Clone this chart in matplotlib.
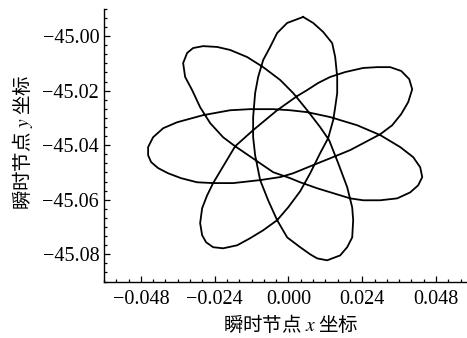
import matplotlib
matplotlib.use("Agg")
import matplotlib.pyplot as plt
from matplotlib.ticker import FixedLocator, MultipleLocator, FuncFormatter

# Instantaneous node trajectory (closed orbit), in drawing order
node_x = [
    0.00478, -0.00042, -0.00368, -0.00595, -0.00823, -0.00986, -0.01084, -0.01149,
    -0.01149, -0.01084, -0.00921, -0.00661, -0.00368, -0.00042, 0.00381, 0.00706,
    0.00934, 0.01259, 0.01682, 0.01910, 0.02073, 0.02105, 0.02073, 0.01910,
    0.01617, 0.01324, 0.01032, 0.00609, 0.00153, -0.00270, -0.00823, -0.01344,
    -0.01897, -0.02320, -0.02776, -0.03101, -0.03296, -0.03426, -0.03361, -0.03134,
    -0.02873, -0.02548, -0.02125, -0.01734, -0.01409, -0.01019, -0.00498, 0.00055,
    0.00381, 0.00934, 0.01455, 0.02008, 0.02431, 0.02984, 0.03537, 0.03960,
    0.04220, 0.04351, 0.04285, 0.04058, 0.03635, 0.02984, 0.02235, 0.01357,
    0.00609, 0.00055, -0.00498, -0.01246, -0.01897, -0.02776, -0.03622, -0.04077,
    -0.04403, -0.04565, -0.04565, -0.04468, -0.04240, -0.03915, -0.03492, -0.02971,
    -0.02450, -0.01799, -0.00921, -0.00270, 0.00153, 0.00804, 0.01357, 0.02008,
    0.02496, 0.02984, 0.03374, 0.03667, 0.03895, 0.04025, 0.03928, 0.03667,
    0.03309, 0.02886, 0.02431, 0.01845, 0.01357, 0.00966, 0.00609, 0.00283,
    -0.00368, -0.01149, -0.01734, -0.02157, -0.02450, -0.02646,
    -0.02808, -0.02873, -0.02808, -0.02678, -0.02450, -0.02125, -0.01669, -0.01246,
    -0.00823, -0.00368, -0.00010, 0.00381, 0.00706, 0.01032, 0.01292, 0.01455,
    0.01520, 0.01585, 0.01585, 0.01520, 0.01422, 0.01129, 0.00804,
]
node_y = [
    -44.9930, -44.9952, -44.9989, -45.0040, -45.0088, -45.0150, -45.0209, -45.0297,
    -45.0371, -45.0437, -45.0528, -45.0602, -45.0675, -45.0738, -45.0774, -45.0800,
    -45.0815, -45.0822, -45.0804, -45.0774, -45.0738, -45.0675, -45.0628, -45.0554,
    -45.0466, -45.0382, -45.0334, -45.0272, -45.0209, -45.0161, -45.0114, -45.0077,
    -45.0051, -45.0040, -45.0037, -45.0044, -45.0062, -45.0099, -45.0150, -45.0198,
    -45.0261, -45.0319, -45.0371, -45.0404, -45.0429, -45.0459, -45.0499, -45.0521,
    -45.0536, -45.0558, -45.0576, -45.0595, -45.0602, -45.0602, -45.0595, -45.0573,
    -45.0547, -45.0517, -45.0481, -45.0444, -45.0407, -45.0363, -45.0327, -45.0297,
    -45.0279, -45.0272, -45.0268, -45.0268, -45.0272, -45.0290, -45.0316, -45.0338,
    -45.0371, -45.0407, -45.0437, -45.0462, -45.0484, -45.0503, -45.0521, -45.0536,
    -45.0539, -45.0539, -45.0528, -45.0517, -45.0503, -45.0473, -45.0448, -45.0418,
    -45.0389, -45.0360, -45.0327, -45.0286, -45.0242, -45.0195, -45.0158, -45.0128,
    -45.0114, -45.0114, -45.0117, -45.0132, -45.0150, -45.0172, -45.0198, -45.0220,
    -45.0272, -45.0345, -45.0404, -45.0484, -45.0539, -45.0584,
    -45.0631, -45.0686, -45.0730, -45.0756, -45.0774, -45.0778, -45.0767, -45.0741,
    -45.0712, -45.0675, -45.0628, -45.0569, -45.0503, -45.0429, -45.0374, -45.0308,
    -45.0261, -45.0209, -45.0150, -45.0077, -45.0026, -44.9985, -44.9952,
]

x_ticks = [-0.048, -0.024, 0.000, 0.024, 0.048]
y_ticks = [-45.08, -45.06, -45.04, -45.02, -45.00]
x_limits = (-0.060, 0.060)
y_limits = (-45.090, -44.990)
x_label = "瞬时节点 $x$ 坐标"
y_label = "瞬时节点 $y$ 坐标"

plt.rcParams["mathtext.fontset"] = "stix"
plt.rcParams["font.family"] = ["Liberation Serif", "Noto Sans CJK SC", "DejaVu Sans"]

fig = plt.figure(figsize=(4.67, 3.38), dpi=100)
ax = fig.add_axes([0.2227, 0.1669, 0.790, 0.8072])

# close the orbit
px = list(node_x) + [node_x[0]]
py = list(node_y) + [node_y[0]]
ax.plot(px, py, color="black", lw=1.3, solid_joinstyle="round")

ax.set_xlim(*x_limits)
ax.set_ylim(*y_limits)

def fmt(decimals):
    def f(v, pos):
        if abs(v) < 1e-12:
            v = 0.0
        return f"{v:.{decimals}f}".replace("-", "\u2212")
    return FuncFormatter(f)

ax.xaxis.set_major_locator(FixedLocator(x_ticks))
ax.xaxis.set_minor_locator(MultipleLocator(0.004))
ax.yaxis.set_major_locator(FixedLocator(y_ticks))
ax.yaxis.set_minor_locator(MultipleLocator(0.02 / 6))
ax.xaxis.set_major_formatter(fmt(3))
ax.yaxis.set_major_formatter(fmt(2))

for s in ("top", "right"):
    ax.spines[s].set_visible(False)
for s in ("left", "bottom"):
    ax.spines[s].set_linewidth(1.0)

ax.tick_params(which="both", direction="in", top=False, right=False, width=0.9)
ax.tick_params(which="major", length=4.5, labelsize=14.5)
ax.tick_params(which="minor", length=2.5)
ax.tick_params(axis="x", which="major", pad=6)
ax.tick_params(axis="y", which="major", pad=3.5)
for lab in ax.get_xticklabels() + ax.get_yticklabels():
    lab.set_fontfamily("Liberation Serif")

ax.set_xlabel(x_label, fontsize=14, fontfamily="Noto Sans CJK SC", va="center")
ax.set_ylabel(y_label, fontsize=14, fontfamily="Noto Sans CJK SC", va="center")
ax.xaxis.set_label_coords(0.5046, -0.159)
ax.yaxis.set_label_coords(-0.221, 0.512)

fig.savefig("out.png", dpi=100)
